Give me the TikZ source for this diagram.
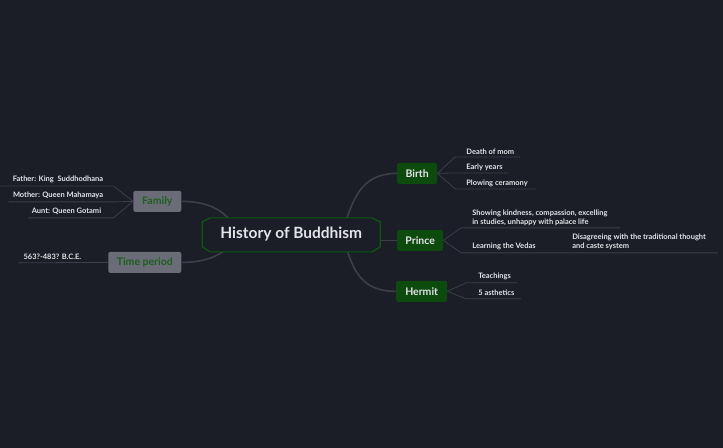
\documentclass[tikz,border=0pt]{standalone}
\usepackage{fontspec}
\setmainfont{Lato}
\definecolor{bg}{HTML}{1B1D27}
\definecolor{ln}{HTML}{3C3F4A}
\definecolor{gf}{HTML}{0C4A0E}
\definecolor{gb}{HTML}{0E5A12}
\definecolor{gy}{HTML}{6A6D77}
\definecolor{gt}{HTML}{1E5E1E}
\definecolor{tx}{HTML}{E4E4E8}
\begin{document}
\begin{tikzpicture}[x=1pt,y=-1pt,
 conn/.style={draw=ln,line width=1.6pt},
 sub/.style={draw=ln,line width=0.8pt},
 gbox/.style={fill=gf,rounded corners=2pt,text=tx,font=\bfseries\fontsize{10.5}{12}\selectfont,minimum height=21pt,inner sep=0pt},
 ybox/.style={fill=gy,rounded corners=2pt,text=gt,font=\bfseries\fontsize{10.5}{12}\selectfont,minimum height=21pt,inner sep=0pt},
 lbl/.style={text=tx,font=\bfseries\fontsize{7.5}{9}\selectfont,inner sep=0pt,align=left}]
\fill[bg] (0,0) rectangle (723,448);
\coordinate (cr) at (342,234);
\coordinate (cl) at (240,234);
% boxes
\node[gbox,minimum width=40pt] (birth) at (417,173.5) {Birth};
\node[gbox,minimum width=46pt] (prince) at (420,240.5) {Prince};
\node[gbox,minimum width=51pt] (hermit) at (421.5,291.5) {Hermit};
\node[ybox,minimum width=48pt] (family) at (157,201.5) {Family};
\node[ybox,minimum width=73pt] (time) at (144.5,262.5) {Time period};
% main connectors
\draw[conn] (cr) .. controls (352,200) and (360,173.5) .. (birth.west);
\draw[conn] (370,240.5) -- (prince.west);
\draw[conn] (cr) .. controls (352,270) and (360,291.5) .. (hermit.west);
\draw[conn] (cl) .. controls (228,215) and (215,201.5) .. (family.east);
\draw[conn] (cl) .. controls (228,250) and (215,262.5) .. (time.east);
% central
\draw[draw=gb,line width=1.2pt,fill=bg] (210,218) -- (372,218) -- (380,222) -- (380,247) -- (372,252) -- (210,252) -- (202,247) -- (202,222) -- cycle;
\node[text=tx,font=\bfseries\fontsize{15.5}{18}\selectfont] (c) at (291,234) {History of Buddhism};
% birth children
\node[lbl,anchor=south west] (b1) at (466,155) {Death of mom};
\node[lbl,anchor=south west] (b2) at (466,171) {Early years};
\node[lbl,anchor=south west] (b3) at (466,187) {Plowing ceramony};
\draw[sub] (birth.east) -- (455,157) -- (520,157);
\draw[sub] (birth.east) -- (455,173) -- (508,173);
\draw[sub] (birth.east) -- (455,189) -- (536,189);
% prince children
\node[lbl,anchor=south west] (p1) at (472,226) {Showing kindness, compassion, excelling\\in studies, unhappy with palace life};
\node[lbl,anchor=south west] (p2) at (472,250) {Learning the Vedas};
\node[lbl,anchor=south west] (p3) at (572,250) {Disagreeing with the traditional thought\\and caste system};
\draw[sub] (prince.east) -- (461,228) -- (620,228);
\draw[sub] (prince.east) -- (461,253) -- (718,253);
% hermit children
\node[lbl,anchor=south west] (h1) at (478,280) {Teachings};
\node[lbl,anchor=south west] (h2) at (478,296) {5 asthetics};
\draw[sub] (hermit.east) -- (466,283) -- (517,283);
\draw[sub] (hermit.east) -- (466,299) -- (521,299);
% family children
\node[lbl,anchor=south east] (f1) at (103,183) {Father: King\ \ Suddhodhana};
\node[lbl,anchor=south east] (f2) at (103,199) {Mother: Queen Mahamaya};
\node[lbl,anchor=south east] (f3) at (101,215) {Aunt: Queen Gotami};
\draw[sub] (family.west) -- (113,186) -- (0,186);
\draw[sub] (family.west) -- (113,202) -- (8,202);
\draw[sub] (family.west) -- (113,218) -- (28,218);
% time child
\node[lbl,anchor=south west] (t1) at (23,260) {563?-483? B.C.E.};
\draw[sub] (time.west) -- (18,263);
\end{tikzpicture}
\end{document}
